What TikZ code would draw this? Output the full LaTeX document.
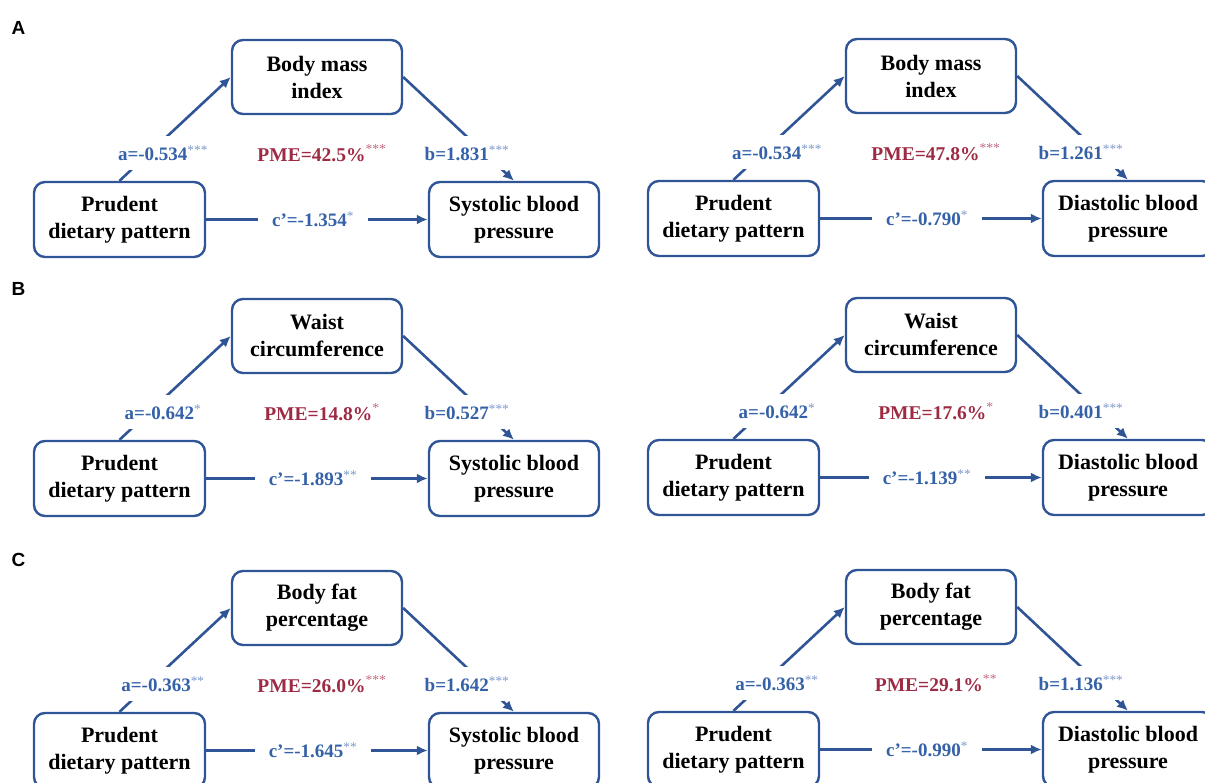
\documentclass[tikz,border=0pt]{standalone}
\usepackage{fontspec}
\setmainfont{Liberation Serif}
\setsansfont{Liberation Sans}
\usetikzlibrary{arrows.meta}
\definecolor{boxblue}{HTML}{2F5597}
\definecolor{lblblue}{HTML}{3461A8}
\definecolor{starblue}{HTML}{7D98CC}
\definecolor{pmered}{HTML}{9E2B44}
\definecolor{starred}{HTML}{C26A80}
\tikzset{
  varbox/.style={draw=boxblue, line width=2.4pt, rounded corners=11pt, minimum width=170pt,
    minimum height=74pt, align=center, inner sep=0pt, font=\fontsize{22}{27}\selectfont\bfseries},
  conn/.style={draw=boxblue, line width=2.6pt},
  arr/.style={conn, -{Latex[length=11pt,width=10pt]}},
  lbl/.style={fill=white, text=lblblue, font=\fontsize{19}{19}\selectfont\bfseries, inner xsep=14pt, inner ysep=9pt},
  pme/.style={text=pmered, font=\fontsize{19.5}{19.5}\selectfont\bfseries, inner sep=0pt},
  panellbl/.style={font=\sffamily\bfseries\fontsize{19}{19}\selectfont, inner sep=0pt},
}
\newcommand\bst[1]{\textsuperscript{\color{starblue}\mdseries #1}}
\newcommand\rst[1]{\textsuperscript{\color{starred}\mdseries #1}}
% #1 prefix, #2 dx, #3 dy, #4 mediator, #5 outcome, #6 a, #7 b, #8 c, #9 pme
\newcommand\medpanel[9]{%
  \begin{scope}[shift={(#2,#3)}]
    \node[varbox] (#1m) at (317,77) {#4};
    \node[varbox, minimum width=171pt, minimum height=75pt] (#1x) at (119.5,219.5) {Prudent\\dietary pattern};
    \node[varbox, minimum height=75pt] (#1y) at (514,219.5) {#5};
    \draw[arr] (#1x.north) -- (#1m.west);
    \draw[arr] (#1m.east) -- (#1y.north);
    \draw[arr] (#1x.east) -- (#1y.west);
    \node[lbl] (#1a) at (163,153) {#6};
    \node[lbl] (#1b) at (467,153) {#7};
    \node[lbl] (#1c) at (313,219.5) {#8};
    \node[pme] (#1p) at (322,153) {#9};
  \end{scope}}
\begin{document}
\begin{tikzpicture}[x=1pt,y=-1pt]
\useasboundingbox (0,0) rectangle (1205,783);
\clip (0,0) rectangle (1205,783);
\node[panellbl] (labA) at (18.5,28) {A};
\node[panellbl] (labB) at (18.5,289) {B};
\node[panellbl] (labC) at (18.5,560) {C};
\medpanel{al}{0}{0}{Body mass\\index}{Systolic blood\\pressure}%
  {a=-0.534\bst{***}}{b=1.831\bst{***}}{c’=-1.354\bst{*}}{PME=42.5\%\rst{***}}
\medpanel{ar}{614}{-1}{Body mass\\index}{Diastolic blood\\pressure}%
  {a=-0.534\bst{***}}{b=1.261\bst{***}}{c’=-0.790\bst{*}}{PME=47.8\%\rst{***}}
\medpanel{bl}{0}{259}{Waist\\circumference}{Systolic blood\\pressure}%
  {a=-0.642\bst{*}}{b=0.527\bst{***}}{c’=-1.893\bst{**}}{PME=14.8\%\rst{*}}
\medpanel{br}{614}{258}{Waist\\circumference}{Diastolic blood\\pressure}%
  {a=-0.642\bst{*}}{b=0.401\bst{***}}{c’=-1.139\bst{**}}{PME=17.6\%\rst{*}}
\medpanel{cl}{0}{531}{Body fat\\percentage}{Systolic blood\\pressure}%
  {a=-0.363\bst{**}}{b=1.642\bst{***}}{c’=-1.645\bst{**}}{PME=26.0\%\rst{***}}
\medpanel{cr}{614}{530}{Body fat\\percentage}{Diastolic blood\\pressure}%
  {a=-0.363\bst{**}}{b=1.136\bst{***}}{c’=-0.990\bst{*}}{PME=29.1\%\rst{**}}
\end{tikzpicture}
\end{document}
